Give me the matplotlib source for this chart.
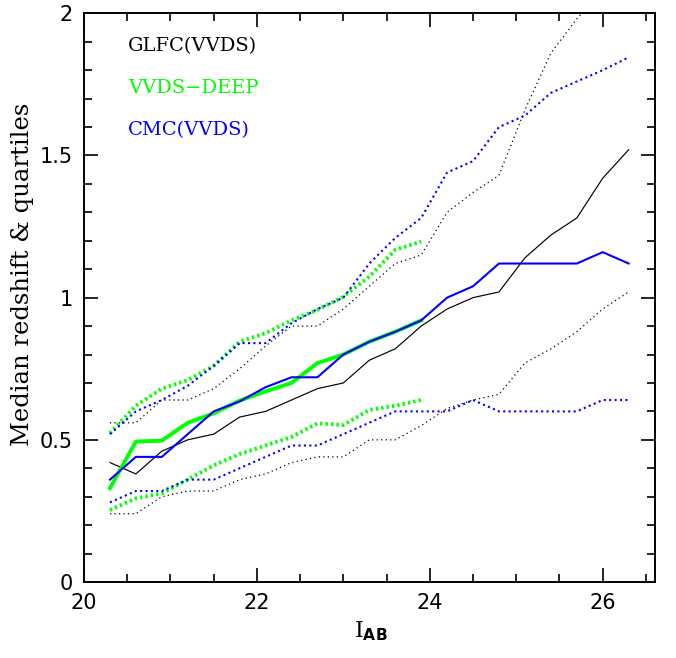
from __future__ import annotations

from typing import List

import matplotlib

matplotlib.use("Agg")
import matplotlib.pyplot as plt
from matplotlib.ticker import MultipleLocator

# I_AB bins (magnitude) for the full samples and the VVDS-DEEP sample
mag_bins: List[float] = [20.3, 20.6, 20.9, 21.2, 21.5, 21.8, 22.1, 22.4, 22.7, 23.0, 23.3,
                         23.6, 23.9, 24.2, 24.5, 24.8, 25.1, 25.4, 25.7, 26.0, 26.3]
deep_bins: List[float] = [20.3, 20.6, 20.9, 21.2, 21.5, 21.8, 22.1, 22.4, 22.7, 23.0, 23.3,
                          23.6, 23.9]

# GLFC(VVDS): median and quartiles
glfc_median = [0.42, 0.38, 0.46, 0.50, 0.52, 0.58, 0.60, 0.64, 0.68, 0.70, 0.78,
               0.82, 0.90, 0.96, 1.00, 1.02, 1.14, 1.22, 1.28, 1.42, 1.52]
glfc_q1 = [0.24, 0.24, 0.30, 0.32, 0.32, 0.36, 0.38, 0.42, 0.44, 0.44, 0.50,
           0.50, 0.55, 0.61, 0.64, 0.66, 0.77, 0.82, 0.88, 0.96, 1.02]
glfc_q3 = [0.56, 0.56, 0.64, 0.64, 0.68, 0.75, 0.83, 0.90, 0.90, 0.96, 1.04,
           1.12, 1.15, 1.30, 1.37, 1.43, 1.66, 1.86, 1.98, 2.08, 2.20]

# CMC(VVDS): median and quartiles
cmc_median = [0.36, 0.44, 0.44, 0.52, 0.60, 0.635, 0.685, 0.72, 0.72, 0.80, 0.845,
              0.88, 0.92, 1.00, 1.04, 1.12, 1.12, 1.12, 1.12, 1.16, 1.12]
cmc_q1 = [0.28, 0.32, 0.32, 0.36, 0.36, 0.40, 0.44, 0.48, 0.48, 0.52, 0.56,
          0.60, 0.60, 0.60, 0.64, 0.60, 0.60, 0.60, 0.60, 0.64, 0.64]
cmc_q3 = [0.52, 0.60, 0.64, 0.69, 0.76, 0.84, 0.84, 0.91, 0.96, 1.00, 1.12,
          1.21, 1.28, 1.44, 1.48, 1.60, 1.64, 1.72, 1.76, 1.80, 1.845]

# VVDS-DEEP spectroscopic: median and quartiles
deep_median = [0.33, 0.494, 0.497, 0.56, 0.593, 0.638, 0.67, 0.70, 0.77, 0.80, 0.845,
               0.88, 0.92]
deep_q1 = [0.253, 0.294, 0.312, 0.36, 0.41, 0.45, 0.48, 0.51, 0.558, 0.552, 0.605,
           0.62, 0.64]
deep_q3 = [0.523, 0.62, 0.68, 0.71, 0.76, 0.845, 0.875, 0.92, 0.957, 1.003, 1.074,
           1.168, 1.197]

GREEN = "#00ff00"
BLUE = "#0000ff"


def style_axes(ax) -> None:
    """PGPLOT-like box: inward ticks on all four sides."""
    ax.set_xlim(20, 26.6)
    ax.set_ylim(0, 2)
    ax.xaxis.set_major_locator(MultipleLocator(2))
    ax.xaxis.set_minor_locator(MultipleLocator(0.5))
    ax.yaxis.set_major_locator(MultipleLocator(0.5))
    ax.yaxis.set_minor_locator(MultipleLocator(0.1))
    ax.set_yticks([0, 0.5, 1, 1.5, 2])
    ax.set_yticklabels(["0", "0.5", "1", "1.5", "2"])
    ax.tick_params(which="both", direction="in", top=True, right=True, width=1.2)
    ax.tick_params(which="major", length=10, labelsize=15, pad=8)
    ax.tick_params(which="minor", length=5.5)
    for spine in ax.spines.values():
        spine.set_linewidth(1.4)
    for label in ax.get_xticklabels() + ax.get_yticklabels():
        label.set_family("DejaVu Sans")


def main() -> None:
    fig = plt.figure(figsize=(6.76, 6.58), dpi=100)
    ax = fig.add_axes([0.1243, 0.1155, 0.844, 0.8643])

    ax.plot(mag_bins, glfc_median, color="black", lw=0.85)
    ax.plot(mag_bins, glfc_q1, color="black", lw=0.9, ls=(0, (1, 2.6)))
    ax.plot(mag_bins, glfc_q3, color="black", lw=0.9, ls=(0, (1, 2.6)))

    ax.plot(deep_bins, deep_median, color=GREEN, lw=2.8)
    ax.plot(deep_bins, deep_q1, color=GREEN, lw=2.8, ls=(0, (0.6, 0.8)))
    ax.plot(deep_bins, deep_q3, color=GREEN, lw=2.8, ls=(0, (0.6, 0.8)))

    ax.plot(mag_bins, cmc_median, color=BLUE, lw=1.5)
    ax.plot(mag_bins, cmc_q1, color=BLUE, lw=1.5, ls=(0, (1, 1.6)))
    ax.plot(mag_bins, cmc_q3, color=BLUE, lw=1.5, ls=(0, (1, 1.6)))

    style_axes(ax)

    legend_font = {"family": "DejaVu Serif", "size": 14}
    ax.text(20.51, 1.885, "GLFC(VVDS)", color="black", va="center", fontdict=legend_font)
    ax.text(20.51, 1.738, "VVDS\u2212DEEP", color=GREEN, va="center", fontdict=legend_font)
    ax.text(20.51, 1.59, "CMC(VVDS)", color=BLUE, va="center", fontdict=legend_font)

    fig.text(0.034, 0.583, "Median redshift & quartiles", rotation=90, ha="center",
             va="center", family="DejaVu Serif", size=17.5)
    fig.text(0.548, 0.04, r"I$_{\mathbf{AB}}$", ha="center", va="center",
             family="DejaVu Serif", size=16)

    fig.savefig("out.png", dpi=100)
    plt.close(fig)


if __name__ == "__main__":
    main()
